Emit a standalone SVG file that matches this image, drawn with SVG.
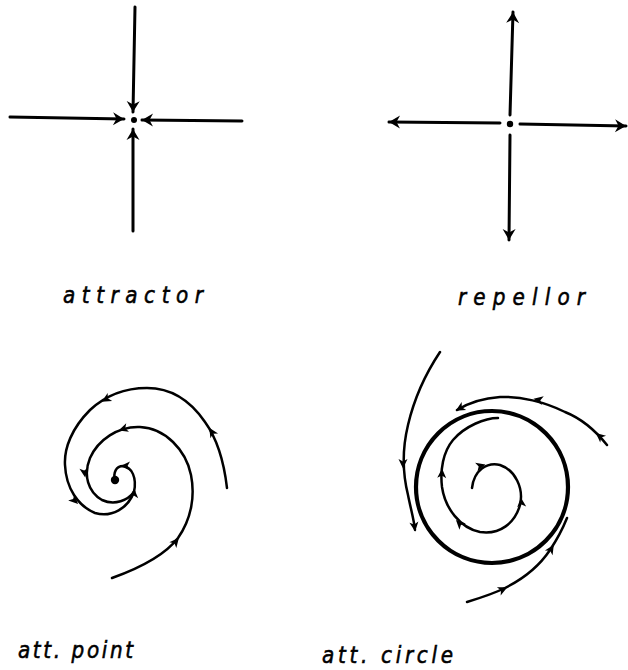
<svg xmlns="http://www.w3.org/2000/svg" xmlns:xlink="http://www.w3.org/1999/xlink" width="628" height="670" viewBox="0 0 628 670">
<style>
.ln{fill:none;stroke:#000;stroke-width:3;stroke-linecap:round}
.cv{fill:none;stroke:#000;stroke-width:2.5;stroke-linecap:round;stroke-linejoin:round}
.lbl{font-family:"DejaVu Sans","Liberation Sans",sans-serif;font-style:italic;font-size:20px;fill:#000;stroke:#000;stroke-width:0.5}
</style>
<defs>
<marker id="big" markerUnits="userSpaceOnUse" markerWidth="16" markerHeight="16" refX="13" refY="8" orient="auto">
<path d="M13,8 L2,1.5 L5.5,8 L2,14.5 Z" fill="#000"/>
</marker>
<path id="ah" d="M1.5,0 L-8,-4.5 L-5.5,0 L-8,4.5 Z" fill="#000"/>
</defs>
<g id="attractor">
<path class="ln" d="M135,7 L133,112" marker-end="url(#big)"/>
<path class="ln" d="M10,117 L124,119" marker-end="url(#big)"/>
<path class="ln" d="M242,121 L142,120" marker-end="url(#big)"/>
<path class="ln" d="M133,231 L133,129" marker-end="url(#big)"/>
<circle cx="134" cy="120" r="3" fill="#000"/>
<text class="lbl" transform="translate(63,303) scale(1,1.15)" textLength="140" lengthAdjust="spacing">attractor</text>
</g>
<g id="repellor">
<path class="ln" d="M510,115 L513,12" marker-end="url(#big)"/>
<path class="ln" d="M500,123 L389,122" marker-end="url(#big)"/>
<path class="ln" d="M520,124 L626,126" marker-end="url(#big)"/>
<path class="ln" d="M510,135 L509,240" marker-end="url(#big)"/>
<circle cx="510" cy="124" r="3.2" fill="#000"/>
<text class="lbl" transform="translate(458,305) scale(1,1.15)" textLength="127" lengthAdjust="spacing">repellor</text>
</g>
<g id="att-point">
<path class="cv" d="M227,488 C224,462 218,440 205,422 C190,400 170,388 147,388 C125,388 105,396 90,410 C72,428 64,448 65,465 C66,488 78,506 95,513 C112,518 128,508 134,492"/>
<path class="cv" d="M112,578 C140,568 165,555 178,538 C192,518 195,495 191,475 C186,450 165,428 140,427 C118,426 98,440 90,458 C83,475 88,492 102,500 C115,506 128,500 134,492"/>
<path class="cv" d="M134,492 C137,478 132,467 123,466 C116,466 113,473 115,480"/>
<circle cx="115" cy="480" r="4.2" fill="#000"/>
<use xlink:href="#ah" transform="translate(210,429) rotate(-122)"/>
<use xlink:href="#ah" transform="translate(103,401) rotate(150)"/>
<use xlink:href="#ah" transform="translate(77,503) rotate(45)"/>
<use xlink:href="#ah" transform="translate(178,539) rotate(-50)"/>
<use xlink:href="#ah" transform="translate(120,430) rotate(162)"/>
<use xlink:href="#ah" transform="translate(85,476) rotate(82)"/>
<use xlink:href="#ah" transform="translate(134,490) rotate(-88)"/>
<use xlink:href="#ah" transform="translate(122,466) rotate(180)"/>
<text class="lbl" transform="translate(18,658) scale(1,1.15)" textLength="115" lengthAdjust="spacing">att. point</text>
</g>
<g id="att-circle">
<circle cx="492" cy="487" r="76" fill="none" stroke="#000" stroke-width="4.2"/>
<path class="cv" d="M498,418 C485,418 465,426 453,440 C443,452 440,470 442,487 C445,508 460,528 480,532 C500,535 515,523 520,505 C524,488 515,470 500,465 C487,462 474,470 472,488"/>
<path class="cv" d="M440,352 C428,370 415,395 408,425 C402,450 403,475 408,495 C411,510 414,520 415,530"/>
<path class="cv" d="M607,445 C595,430 580,418 565,412 C545,402 520,396 500,397 C485,398 470,402 457,410"/>
<path class="cv" d="M467,602 C480,598 495,593 505,588 C525,578 540,565 550,550 C558,538 563,528 567,518"/>
<use xlink:href="#ah" transform="translate(442,470) rotate(-88)"/>
<use xlink:href="#ah" transform="translate(457,521) rotate(-135)"/>
<use xlink:href="#ah" transform="translate(521,499) rotate(-95)"/>
<use xlink:href="#ah" transform="translate(484,465) rotate(-15)"/>
<use xlink:href="#ah" transform="translate(403,467) rotate(90)"/>
<use xlink:href="#ah" transform="translate(415,530) rotate(82)"/>
<use xlink:href="#ah" transform="translate(597,434) rotate(-140)"/>
<use xlink:href="#ah" transform="translate(535,399) rotate(-168)"/>
<use xlink:href="#ah" transform="translate(457,410) rotate(150)"/>
<use xlink:href="#ah" transform="translate(506,588) rotate(-25)"/>
<use xlink:href="#ah" transform="translate(553,546) rotate(-58)"/>
<text class="lbl" transform="translate(322,663) scale(1,1.15)" textLength="131" lengthAdjust="spacing">att. circle</text>
</g>
</svg>
